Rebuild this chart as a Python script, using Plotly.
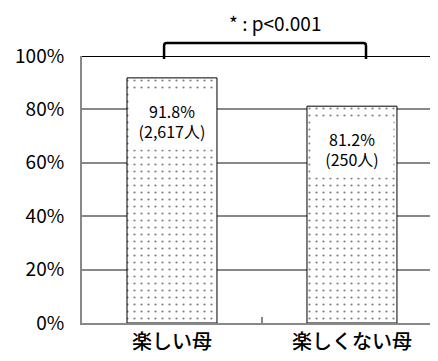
import plotly.graph_objects as go

categories = ["楽しい母", "楽しくない母"]
values = [91.8, 81.2]
counts = ["2,617人", "250人"]
y_ticks = [0, 20, 40, 60, 80, 100]
y_tick_labels = ["0%", "20%", "40%", "60%", "80%", "100%"]
sig_text = "* : p<0.001"

font_jp = "Noto Sans CJK JP"

fig = go.Figure(go.Bar(
    x=categories,
    y=values,
    width=0.5,
    marker=dict(
        color="white",
        line=dict(color="black", width=1),
        pattern=dict(shape=".", fgcolor="black", bgcolor="white", size=7, solidity=0.08),
    ),
    hoverinfo="skip",
))

# value labels on a white box inside each bar
for cat, v, c in zip(categories, values, counts):
    fig.add_annotation(
        x=cat, y=v - 16, xref="x", yref="y",
        text=f"{v}%<br>({c})",
        showarrow=False, bgcolor="white", width=80, height=54,
        font=dict(family=font_jp, size=16, color="black"),
    )

# significance bracket
fig.add_shape(type="path", xref="x", yref="paper",
              path="M -0.044,0.989 L -0.044,1.038 Q -0.044,1.049 -0.03,1.049 "
                   "L 1.064,1.049 Q 1.078,1.049 1.078,1.038 L 1.078,0.989",
              line=dict(color="black", width=2.5))
fig.add_annotation(x=0.572, y=1.125, xref="x", yref="paper", yanchor="middle",
                   text=sig_text, showarrow=False,
                   font=dict(family=font_jp, size=19, color="black"))

# black line at 100%
fig.add_shape(type="line", xref="paper", yref="y", x0=0, x1=1, y0=100, y1=100,
              line=dict(color="black", width=2))

# page body adds an 8px offset, so the figure is sized to fit the window
fig.update_layout(
    width=430, height=353,
    margin=dict(l=74, r=0, t=48, b=38),
    plot_bgcolor="white", paper_bgcolor="white",
    showlegend=False,
    xaxis=dict(
        type="category", range=[-0.5, 1.478], automargin=False,
        tickson="boundaries", ticks="inside", ticklen=6, tickcolor="#888888", tickwidth=1.5,
        showline=True, linecolor="#888888", linewidth=2,
        showgrid=False, zeroline=False,
        tickfont=dict(family=font_jp, size=20, color="black", weight=500),
    ),
    yaxis=dict(
        range=[0, 100], automargin=False,
        tickmode="array", tickvals=y_ticks, ticktext=y_tick_labels,
        showline=True, linecolor="#888888", linewidth=2,
        showgrid=True, gridcolor="#888888", gridwidth=1.5,
        zeroline=False, ticks="", ticklabelstandoff=12,
        tickfont=dict(family=font_jp, size=19, color="black"),
    ),
)

fig.write_html("out.html")
